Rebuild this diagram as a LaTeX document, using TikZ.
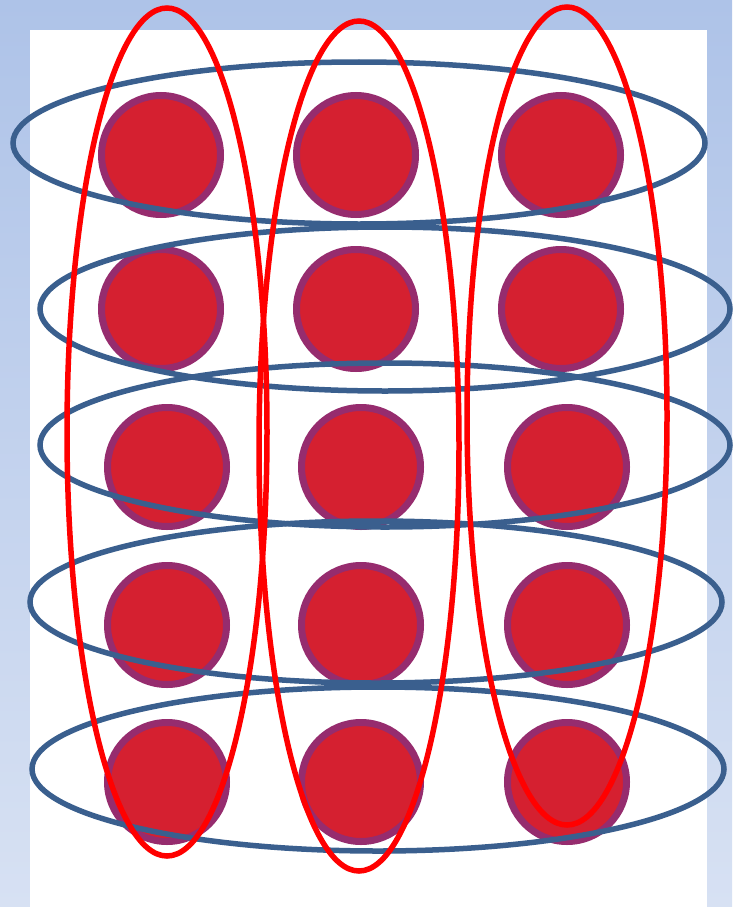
\documentclass[tikz,border=0pt]{standalone}
\definecolor{bgtop}{HTML}{AEC3E8}
\definecolor{bgbot}{HTML}{D7E1F3}
\definecolor{dotfill}{HTML}{D52030}
\definecolor{dotring}{HTML}{962C6E}
\definecolor{rowblue}{HTML}{3A5F8E}
\definecolor{colred}{HTML}{FF0000}
\begin{document}
\begin{tikzpicture}[x=1pt,y=-1pt,
  dot/.style={circle,fill=dotfill,draw=dotring,line width=7pt,minimum size=119pt,inner sep=0pt},
  rowring/.style={draw=rowblue,line width=5.5pt},
  colring/.style={draw=colred,line width=5.5pt}]
\useasboundingbox (0,0) rectangle (732,907);
\shade[top color=bgtop,bottom color=bgbot] (0,0) rectangle (732,907);
\fill[white] (30,30) rectangle (707,907);
% dots
\node[dot] (d11) at (161,155) {};
\node[dot] (d12) at (356,155) {};
\node[dot] (d13) at (561,155) {};
\node[dot] (d21) at (161,309) {};
\node[dot] (d22) at (356,309) {};
\node[dot] (d23) at (561,309) {};
\node[dot] (d31) at (167,467) {};
\node[dot] (d32) at (361,467) {};
\node[dot] (d33) at (567,467) {};
\node[dot] (d41) at (167,625) {};
\node[dot] (d42) at (361,625) {};
\node[dot] (d43) at (567,625) {};
\node[dot] (d51) at (167,782) {};
\node[dot] (d52) at (361,782) {};
\node[dot] (d53) at (567,782) {};
% row ellipses
\draw[rowring] (359,143) ellipse [x radius=346, y radius=81];
\draw[rowring] (385,309) ellipse [x radius=345, y radius=82];
\draw[rowring] (385,445) ellipse [x radius=345, y radius=82];
\draw[rowring] (376,602) ellipse [x radius=346, y radius=81];
\draw[rowring] (378,769) ellipse [x radius=346, y radius=82];
% column ellipses
\draw[colring] (167,432) ellipse [x radius=100, y radius=424];
\draw[colring] (359,446) ellipse [x radius=100, y radius=425];
\draw[colring] (567,416) ellipse [x radius=100, y radius=409];
\end{tikzpicture}
\end{document}
